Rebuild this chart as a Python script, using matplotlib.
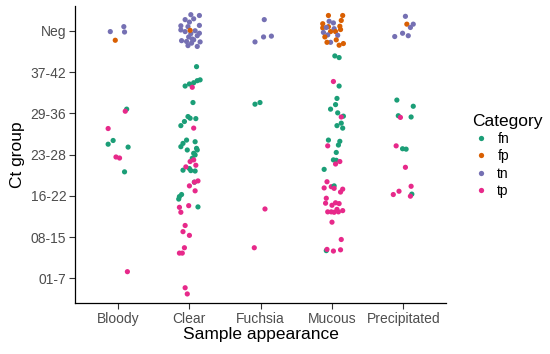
import matplotlib.pyplot as plt
from matplotlib.lines import Line2D

plt.rcParams['font.family'] = ['Liberation Sans', 'DejaVu Sans']

appearances = ['Bloody', 'Clear', 'Fuchsia', 'Mucous', 'Precipitated']
ct_groups = ['01-7', '08-15', '16-22', '23-28', '29-36', '37-42', 'Neg']
categories = ['fn', 'fp', 'tn', 'tp']
palette = {'fn': '#1B9E77', 'fp': '#D95F02', 'tn': '#7570B3', 'tp': '#E7298A'}

# (category, ct group, jitter x, jitter y)
bloody_pts = [
    ('tn', 'Neg', -0.11, -0.02), ('tn', 'Neg', 0.08, 0.10), ('tn', 'Neg', 0.09, -0.03),
    ('fp', 'Neg', -0.04, -0.23),
    ('fn', '29-36', 0.12, 0.10), ('tp', '29-36', 0.10, 0.05), ('tp', '29-36', -0.14, -0.37),
    ('fn', '23-28', -0.07, 0.34), ('fn', '23-28', -0.14, 0.25), ('fn', '23-28', 0.14, 0.18),
    ('tp', '23-28', -0.03, -0.06), ('tp', '23-28', 0.02, -0.085), ('fn', '23-28', 0.09, -0.42),
    ('tp', '01-7', 0.13, 0.16),
]

clear_pts = [
    ('tn', 'Neg', 0.02, 0.39), ('tn', 'Neg', 0.14, 0.37), ('tn', 'Neg', -0.06, 0.27),
    ('tn', 'Neg', 0.06, 0.29), ('tn', 'Neg', 0.00, 0.21), ('tn', 'Neg', -0.12, 0.12),
    ('tn', 'Neg', -0.02, 0.10), ('tn', 'Neg', 0.14, 0.13), ('tn', 'Neg', -0.12, 0.02),
    ('tn', 'Neg', 0.08, 0.00), ('tn', 'Neg', -0.06, -0.02), ('tn', 'Neg', 0.14, -0.06),
    ('tn', 'Neg', 0.02, -0.07), ('tn', 'Neg', 0.11, -0.12), ('tn', 'Neg', -0.11, -0.24),
    ('tn', 'Neg', -0.01, -0.15), ('tn', 'Neg', 0.06, -0.22), ('tn', 'Neg', -0.04, -0.26),
    ('tn', 'Neg', 0.03, -0.30), ('tn', 'Neg', -0.02, -0.36), ('tn', 'Neg', 0.11, -0.38),
    ('tn', 'Neg', 0.15, -0.27), ('tn', 'Neg', 0.04, -0.20),
    ('fp', 'Neg', 0.01, 0.01),
    ('fn', '37-42', 0.10, 0.13), ('fn', '37-42', -0.06, -0.34), ('fn', '37-42', 0.00, -0.29),
    ('fn', '37-42', 0.06, -0.26), ('fn', '37-42', 0.11, -0.21), ('fn', '37-42', 0.15, -0.19),
    ('tp', '37-42', 0.04, -0.37),
    ('fn', '29-36', 0.05, 0.26), ('fn', '29-36', -0.02, -0.08), ('fn', '29-36', 0.01, -0.12),
    ('fn', '29-36', 0.09, -0.13), ('fn', '29-36', -0.07, -0.20), ('fn', '29-36', -0.12, -0.30),
    ('tp', '29-36', 0.06, -0.36),
    ('fn', '23-28', -0.04, 0.35), ('fn', '23-28', -0.09, 0.27), ('fn', '23-28', -0.12, 0.19),
    ('fn', '23-28', 0.08, 0.31), ('fn', '23-28', 0.10, 0.15), ('fn', '23-28', -0.03, 0.11),
    ('fn', '23-28', 0.11, 0.11), ('fn', '23-28', 0.04, -0.09), ('fn', '23-28', 0.08, -0.01),
    ('fn', '23-28', 0.06, 0.03), ('fn', '23-28', -0.09, -0.38), ('fn', '23-28', 0.00, -0.34),
    ('fn', '23-28', 0.02, -0.39), ('fn', '23-28', 0.08, -0.40),
    ('tp', '23-28', 0.01, -0.17), ('tp', '23-28', 0.06, -0.13), ('tp', '23-28', 0.09, -0.26),
    ('tp', '23-28', -0.05, -0.30),
    ('fn', '16-22', 0.07, 0.33), ('fn', '16-22', -0.14, -0.02), ('fn', '16-22', -0.11, 0.03),
    ('fn', '16-22', -0.15, -0.08), ('fn', '16-22', 0.12, -0.27),
    ('tp', '16-22', 0.07, 0.33), ('tp', '16-22', 0.12, 0.36), ('tp', '16-22', 0.00, 0.24),
    ('tp', '16-22', 0.08, 0.12), ('tp', '16-22', -0.14, -0.28), ('tp', '16-22', -0.12, -0.40),
    ('tp', '16-22', -0.01, -0.24),
    ('tp', '08-15', -0.06, 0.28), ('tp', '08-15', -0.09, 0.13), ('tp', '08-15', 0.00, 0.04),
    ('tp', '08-15', -0.07, -0.26), ('tp', '08-15', -0.14, -0.39), ('tp', '08-15', -0.10, -0.39),
    ('tp', '01-7', -0.06, -0.23), ('tp', '01-7', -0.03, -0.38),
]

fuchsia_pts = [
    ('tn', 'Neg', 0.05, 0.27), ('tn', 'Neg', -0.08, -0.27), ('tn', 'Neg', 0.04, -0.15),
    ('tn', 'Neg', 0.15, -0.13),
    ('fn', '29-36', -0.08, 0.22), ('fn', '29-36', -0.01, 0.26),
    ('tp', '16-22', 0.06, -0.32), ('tp', '08-15', -0.09, -0.26),
]

mucous_pts = [
    ('fp', 'Neg', -0.05, 0.37), ('fp', 'Neg', 0.15, 0.37), ('fp', 'Neg', 0.13, 0.25),
    ('tn', 'Neg', -0.04, 0.23), ('tn', 'Neg', 0.02, 0.19),
    ('fp', 'Neg', -0.13, 0.17), ('fp', 'Neg', 0.11, 0.11), ('fp', 'Neg', -0.13, 0.07),
    ('fp', 'Neg', -0.05, 0.10),
    ('tn', 'Neg', -0.08, 0.08), ('tn', 'Neg', 0.03, 0.05),
    ('fp', 'Neg', 0.12, 0.03), ('fp', 'Neg', -0.02, -0.02), ('fp', 'Neg', 0.05, -0.02),
    ('tn', 'Neg', -0.12, -0.04), ('tn', 'Neg', -0.06, -0.10), ('tn', 'Neg', 0.08, -0.11),
    ('fp', 'Neg', -0.10, -0.15), ('fp', 'Neg', 0.06, -0.22),
    ('tn', 'Neg', -0.02, -0.28),
    ('fp', 'Neg', -0.07, -0.28), ('fp', 'Neg', 0.10, -0.35), ('fp', 'Neg', 0.16, -0.31),
    ('fn', '37-42', 0.04, 0.39), ('fn', '37-42', 0.10, 0.35), ('tp', '37-42', 0.02, -0.23),
    ('fn', '37-42', 0.10, -0.34),
    ('fn', '29-36', 0.07, 0.36), ('fn', '29-36', 0.05, 0.21), ('fn', '29-36', -0.02, 0.10),
    ('fn', '29-36', 0.08, 0.01), ('fn', '29-36', 0.16, -0.07), ('tp', '29-36', 0.13, -0.09),
    ('fn', '29-36', 0.13, -0.24), ('fn', '29-36', 0.07, -0.30), ('fn', '29-36', 0.15, -0.36),
    ('fn', '23-28', -0.05, 0.35), ('fn', '23-28', 0.11, 0.32), ('fn', '23-28', 0.09, 0.23),
    ('tp', '23-28', -0.06, 0.21),
    ('fn', '23-28', 0.06, 0.05), ('fn', '23-28', 0.02, -0.13), ('fn', '23-28', 0.06, -0.14),
    ('tp', '23-28', 0.05, -0.23), ('tp', '23-28', 0.11, -0.17), ('fn', '23-28', -0.11, -0.36),
    ('tp', '16-22', -0.07, 0.34), ('tp', '16-22', -0.11, 0.19), ('tp', '16-22', -0.01, 0.22),
    ('fn', '16-22', 0.03, 0.24), ('tp', '16-22', 0.03, 0.18), ('tp', '16-22', 0.15, 0.16),
    ('tp', '16-22', 0.12, 0.09), ('tp', '16-22', -0.08, -0.06), ('tp', '16-22', -0.09, -0.18),
    ('tp', '16-22', 0.00, -0.23), ('tp', '16-22', 0.05, -0.17), ('tp', '16-22', 0.10, -0.19),
    ('tp', '16-22', -0.06, -0.39), ('tp', '16-22', -0.01, -0.39), ('tp', '16-22', 0.03, -0.40),
    ('tp', '16-22', 0.07, -0.33), ('tp', '16-22', 0.09, -0.39), ('tp', '16-22', 0.15, -0.36),
    ('tp', '08-15', 0.00, 0.36), ('tp', '08-15', 0.13, -0.06),
    ('fn', '08-15', -0.08, -0.33), ('tp', '08-15', -0.07, -0.30), ('tp', '08-15', 0.02, -0.34),
    ('tp', '08-15', 0.12, -0.31),
]

precipitated_pts = [
    ('tn', 'Neg', 0.03, 0.35), ('fp', 'Neg', 0.05, 0.16), ('tn', 'Neg', 0.14, 0.16),
    ('tn', 'Neg', 0.10, 0.08), ('tn', 'Neg', -0.01, -0.06), ('tn', 'Neg', -0.12, -0.14),
    ('tn', 'Neg', 0.07, -0.12),
    ('fn', '29-36', -0.09, 0.32), ('fn', '29-36', 0.14, 0.17), ('fn', '29-36', -0.07, -0.06),
    ('tp', '29-36', -0.04, -0.10), ('fn', '29-36', 0.11, -0.09),
    ('tp', '23-28', -0.10, 0.21), ('fn', '23-28', -0.01, 0.14), ('fn', '23-28', 0.04, 0.13),
    ('tp', '23-28', 0.03, -0.31),
    ('tp', '16-22', 0.11, 0.23), ('tp', '16-22', -0.06, 0.11), ('tp', '16-22', -0.14, 0.03),
    ('fn', '16-22', 0.12, 0.04), ('tp', '16-22', 0.10, -0.01),
]

all_pts = [bloody_pts, clear_pts, fuchsia_pts, mucous_pts, precipitated_pts]

xs, ys, cs = [], [], []
for i, pts in enumerate(all_pts):
    for cat, grp, dx, dy in pts:
        xs.append(i + 1 + dx)
        ys.append(ct_groups.index(grp) + 1 + dy)
        cs.append(palette[cat])

fig = plt.figure(figsize=(5.5, 3.54), dpi=100)
ax = fig.add_axes([0.137, 0.144, 0.674, 0.839])
ax.scatter(xs, ys, c=cs, s=14, linewidths=0, zorder=3)

ax.set_xlim(0.4, len(appearances) + 0.6)
ax.set_ylim(0.4, len(ct_groups) + 0.6)
ax.set_xticks(range(1, len(appearances) + 1))
ax.set_xticklabels(appearances)
ax.set_yticks(range(1, len(ct_groups) + 1))
ax.set_yticklabels(ct_groups)
ax.tick_params(colors='#333333', labelcolor='#4D4D4D', labelsize=10,
               length=4, width=0.8, pad=2.5)
for side in ['top', 'right']:
    ax.spines[side].set_visible(False)
for side in ['left', 'bottom']:
    ax.spines[side].set_linewidth(0.9)
ax.set_xlabel('Sample appearance', fontsize=12.5, labelpad=1)
ax.set_ylabel('Ct group', fontsize=12.5, labelpad=4)

handles = [Line2D([], [], marker='o', linestyle='', markersize=3.8,
                  markerfacecolor=palette[c], markeredgewidth=0) for c in categories]
leg = fig.legend(handles, categories, title='Category', loc='center left',
                 bbox_to_anchor=(0.836, 0.56), frameon=False, fontsize=10,
                 title_fontsize=12.5, handletextpad=0.6, labelspacing=0.24,
                 handlelength=1.2)
leg._legend_box.align = 'left'

fig.savefig('out.png', dpi=100)
